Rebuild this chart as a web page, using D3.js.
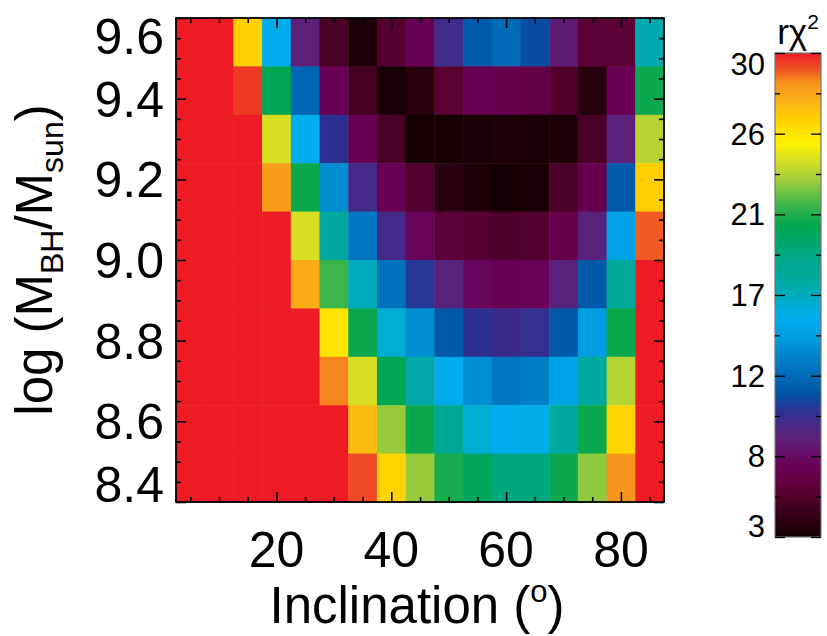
<!DOCTYPE html>
<html><head><meta charset="utf-8">
<script src="https://cdn.jsdelivr.net/npm/d3@7"></script>
<style>
html,body{margin:0;padding:0;background:#fff;}
svg{display:block;font-family:"Liberation Sans",Arial,Helvetica,sans-serif;}
</style></head>
<body>
<svg id="chart" width="827" height="636"></svg>
<script>
// ---- data ----
const inclinations = [5,10,15,20,25,30,35,40,45,50,55,60,65,70,75,80,85];
const logMasses = [9.54,9.42,9.30,9.18,9.06,8.94,8.82,8.70,8.58,8.46];
// reduced chi^2 per row (top row = highest mass), one value per inclination
const chi2_954 = [30,30,26.3,15,8.5,5,3.3,5.3,6.8,9.5,11.3,12,10.8,8.3,5.6,5.6,16.8];
const chi2_942 = [30,30,29.5,20.3,11.8,6.9,4.7,3.2,3.8,5.5,6.8,6.6,6.2,5.2,3.7,6.8,20.5];
const chi2_930 = [30,30,30,24,15.3,10,6.8,4.9,3.1,3.1,3.2,3.4,3.2,3.3,4.9,8.6,23.3];
const chi2_918 = [30,30,30,28,20.5,13.5,9.3,6.8,5.3,3.8,3.3,3.0,3.2,5.0,6.6,11.2,26.4];
const chi2_906 = [30,30,30,30,24,17.5,12.5,9.3,7.2,5.7,5.4,5.1,5.3,6.4,8.7,14.5,29];
const chi2_894 = [30,30,30,30,27.5,21.5,16.5,12.3,10.2,8.7,7.3,6.9,7.1,8.7,11.2,17.7,30];
const chi2_882 = [30,30,30,30,30,25.5,20.5,16,13.5,11.2,10,9.6,9.8,11.2,14.2,20.5,30];
const chi2_870 = [30,30,30,30,30,28.5,24,20.2,17,15,13.5,12.5,12.8,14.5,17.5,23.3,30];
const chi2_858 = [30,30,30,30,30,30,27,22.8,20.5,18,16,15.2,15.5,17.5,20.5,26.2,30];
const chi2_846 = [30,30,30,30,30,30,29.2,26.2,22.8,20.8,20,18.8,18.8,20.5,22.7,28.3,30];
const chi2Rows = [chi2_954,chi2_942,chi2_930,chi2_918,chi2_906,chi2_894,chi2_882,chi2_870,chi2_858,chi2_846];

const xMajorTicks = [20,40,60,80];
const xMinorTicks = [5,10,15,25,30,35,45,50,55,65,70,75,85];
const yMajorTicks = [8.4,8.6,8.8,9.0,9.2,9.4,9.6];
const yMinorTicks = [8.45,8.5,8.55,8.65,8.7,8.75,8.85,8.9,8.95,9.05,9.1,9.15,9.25,9.3,9.35,9.45,9.5,9.55];
const cbarTicks = [3,7.5,12,16.5,21,25.5,30];
const cbarLabels = ["3","8","12","17","21","26","30"];
const cbarMinor = [5.25,9.75,14.25,18.75,23.25,27.75];

// colour table (value -> colour)
const cmapStops = [3,4,5.5,7,8.5,10,11,12.3,14.3,15.3,17,18.5,20.3,21.5,23,24,25,26.3,27.3,28.3,29.2,30];
const cmapColors = ["#140000","#2e0012","#5a0033","#6a0058","#5f2079","#2e3192","#0054a6","#0072bc","#00a0e2","#00aeef","#00a9a8","#00a88a","#00a651","#3ab54a","#a6ce39","#d7df23","#fff200","#ffd100","#fbb117","#f7941d","#ef4a23","#ed1c24"];

// ---- layout ----
const svg = d3.select("#chart");
const L=176, R=664, T=18, B=502;
const x = d3.scaleLinear().domain([2.5,87.5]).range([L,R]);
const y = d3.scaleLinear().domain([8.4,9.6]).range([B,T]);
const color = d3.scaleLinear().domain(cmapStops).range(cmapColors).clamp(true);

// cells
const cells = [];
chi2Rows.forEach((row,i)=>row.forEach((v,j)=>cells.push({inc:inclinations[j], m:logMasses[i], v})));
svg.append("g").selectAll("rect").data(cells).join("rect")
  .attr("x",d=>x(d.inc-2.5)).attr("y",d=>y(d.m+0.06))
  .attr("width",d=>x(d.inc+2.5)-x(d.inc-2.5)+0.5)
  .attr("height",d=>y(d.m-0.06)-y(d.m+0.06)+0.5)
  .attr("fill",d=>color(d.v));

// axes ticks (inward)
function ticks(axisGen, vals, size, transform){
  const g = svg.append("g").attr("transform",transform)
    .call(axisGen.tickValues(vals).tickSize(size).tickFormat(""));
  g.select(".domain").remove();
  g.selectAll("line").attr("stroke","#000").attr("stroke-width",1.6);
}
ticks(d3.axisBottom(x), xMajorTicks, -10, `translate(0,${B})`);
ticks(d3.axisBottom(x), xMinorTicks, -5, `translate(0,${B})`);
ticks(d3.axisTop(x), xMajorTicks, -10, `translate(0,${T})`);
ticks(d3.axisTop(x), xMinorTicks, -5, `translate(0,${T})`);
ticks(d3.axisLeft(y), yMajorTicks, -10, `translate(${L},0)`);
ticks(d3.axisLeft(y), yMinorTicks, -5, `translate(${L},0)`);
ticks(d3.axisRight(y), yMajorTicks, -10, `translate(${R},0)`);
ticks(d3.axisRight(y), yMinorTicks, -5, `translate(${R},0)`);

svg.append("rect").attr("x",L).attr("y",T).attr("width",R-L).attr("height",B-T)
  .attr("fill","none").attr("stroke","#000").attr("stroke-width",1.8);

// tick labels
const tickFont = 50, capH = tickFont*0.716;
svg.append("g").selectAll("text").data(xMajorTicks).join("text")
  .attr("x",d=>x(d)).attr("y",567).attr("text-anchor","middle")
  .attr("font-size",tickFont).text(d=>d);
svg.append("g").selectAll("text").data(yMajorTicks).join("text")
  .attr("x",164).attr("text-anchor","end").attr("font-size",tickFont)
  .attr("y",d=>Math.min(Math.max(y(d),T+capH/2),B-capH/2)+capH/2)
  .text(d=>d.toFixed(1));

// axis titles
const xt = svg.append("text").attr("x",(L+R)/2-3).attr("y",623).attr("text-anchor","middle")
  .attr("font-size",51);
xt.append("tspan").text("Inclination (");
xt.append("tspan").attr("font-size",31).attr("dy",-21).text("o");
xt.append("tspan").attr("dy",21).text(")");

const yt = svg.append("text").attr("transform",`translate(52,${(T+B)/2}) rotate(-90)`)
  .attr("text-anchor","middle").attr("font-size",51);
yt.append("tspan").text("log (M");
yt.append("tspan").attr("font-size",32).attr("dy",11).text("BH");
yt.append("tspan").attr("dy",-11).text("/M");
yt.append("tspan").attr("font-size",32).attr("dy",11).text("sun");
yt.append("tspan").attr("dy",-11).text(")");

// colour bar
const cbL=775, cbR=821, cbT=53, cbB=537;
const cy = d3.scaleLinear().domain([3,30]).range([cbB,cbT]);
const grad = svg.append("defs").append("linearGradient").attr("id","cbgrad")
  .attr("x1",0).attr("y1",1).attr("x2",0).attr("y2",0);
grad.selectAll("stop").data(d3.range(0,101)).join("stop")
  .attr("offset",d=>d+"%").attr("stop-color",d=>color(3+27*d/100));
svg.append("rect").attr("x",cbL).attr("y",cbT).attr("width",cbR-cbL).attr("height",cbB-cbT)
  .attr("fill","url(#cbgrad)").attr("stroke","#777").attr("stroke-width",1.2);
function cticks(axisGen, vals, size, transform){
  const g = svg.append("g").attr("transform",transform)
    .call(axisGen.tickValues(vals).tickSize(size).tickFormat(""));
  g.select(".domain").remove();
  g.selectAll("line").attr("stroke","#000").attr("stroke-width",1.3);
}
cticks(d3.axisLeft(cy), cbarTicks, -10, `translate(${cbL},0)`);
cticks(d3.axisLeft(cy), cbarMinor, -5, `translate(${cbL},0)`);
cticks(d3.axisRight(cy), cbarTicks, -10, `translate(${cbR},0)`);
cticks(d3.axisRight(cy), cbarMinor, -5, `translate(${cbR},0)`);
const cbFont = 31, cbCap = cbFont*0.716;
svg.append("g").selectAll("text").data(cbarTicks).join("text")
  .attr("x",765).attr("text-anchor","end").attr("font-size",cbFont)
  .attr("y",d=>Math.min(Math.max(cy(d),cbT+cbCap/2),cbB-cbCap/2)+cbCap/2)
  .text((d,i)=>cbarLabels[i]);
const ct = svg.append("text").attr("x",(cbL+cbR)/2).attr("y",44).attr("text-anchor","middle")
  .attr("font-size",35);
ct.append("tspan").text("rχ");
ct.append("tspan").attr("font-size",21).attr("dy",-15).text("2");
</script>
</body></html>
